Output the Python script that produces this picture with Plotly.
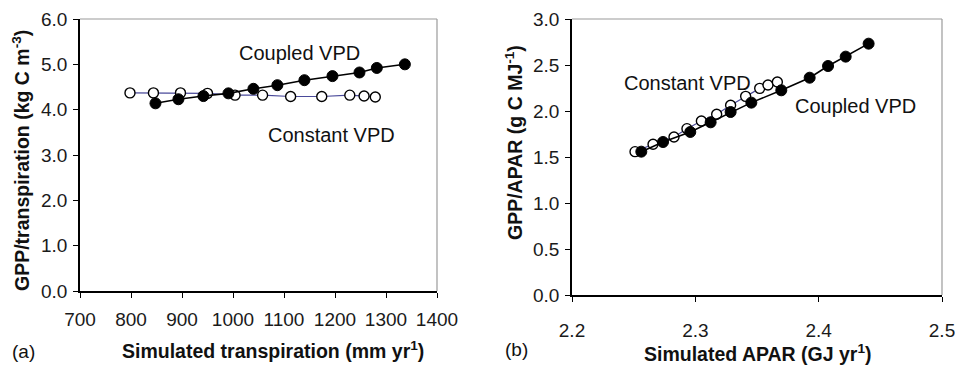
import plotly.graph_objects as go

W, H = 955, 366

# Panel (a): GPP/transpiration vs simulated transpiration
a_coupled_x = [848, 893, 942, 991, 1040, 1087, 1140, 1195, 1248, 1282, 1337]
a_coupled_y = [4.14, 4.23, 4.30, 4.36, 4.46, 4.54, 4.65, 4.74, 4.82, 4.92, 5.00]
a_constant_x = [798, 844, 897, 950, 1004, 1058, 1113, 1174, 1229, 1257, 1279]
a_constant_y = [4.37, 4.37, 4.37, 4.36, 4.32, 4.32, 4.29, 4.29, 4.32, 4.30, 4.28]

# Panel (b): GPP/APAR vs simulated APAR
b_coupled_x = [2.2562, 2.2738, 2.2959, 2.3124, 2.3286, 2.3454, 2.3697, 2.3927, 2.4076, 2.4219, 2.4405]
b_coupled_y = [1.558, 1.663, 1.772, 1.877, 1.989, 2.091, 2.225, 2.362, 2.489, 2.591, 2.732]
b_constant_x = [2.2511, 2.2657, 2.2827, 2.2932, 2.3049, 2.3173, 2.3286, 2.3408, 2.3522, 2.3589, 2.3665]
b_constant_y = [1.558, 1.638, 1.717, 1.808, 1.891, 1.964, 2.062, 2.159, 2.246, 2.283, 2.315]

a_xticks = [700, 800, 900, 1000, 1100, 1200, 1300, 1400]
a_yticks = [0, 1, 2, 3, 4, 5, 6]
b_xticks = [2.2, 2.3, 2.4, 2.5]
b_yticks = [0, 0.5, 1.0, 1.5, 2.0, 2.5, 3.0]

FONT = "Liberation Sans, Arial, sans-serif"

def px(x):
    return x / W

def py(y):
    return 1 - y / H

fig = go.Figure()

const_line = dict(color="#4a4a9a", width=1.2)
coup_line = dict(color="black", width=1.6)
open_marker = dict(symbol="circle", size=10, color="white", line=dict(color="black", width=1.4))
fill_marker = dict(symbol="circle", size=11, color="black", line=dict(color="black", width=1))

fig.add_trace(go.Scatter(x=a_constant_x, y=a_constant_y, mode="lines+markers",
                         line=const_line, marker=open_marker, xaxis="x", yaxis="y", showlegend=False))
fig.add_trace(go.Scatter(x=a_coupled_x, y=a_coupled_y, mode="lines+markers",
                         line=coup_line, marker=fill_marker, xaxis="x", yaxis="y", showlegend=False))
fig.add_trace(go.Scatter(x=b_constant_x, y=b_constant_y, mode="lines+markers",
                         line=const_line, marker=open_marker, xaxis="x2", yaxis="y2", showlegend=False))
fig.add_trace(go.Scatter(x=b_coupled_x, y=b_coupled_y, mode="lines+markers",
                         line=coup_line, marker=fill_marker, xaxis="x2", yaxis="y2", showlegend=False))

axis_common = dict(showgrid=False, zeroline=False, showline=True, linecolor="black", linewidth=1.5,
                   ticks="outside", ticklen=5, tickcolor="black", tickwidth=1.2, automargin=False,
                   ticklabeloverflow="allow",
                   tickfont=dict(family=FONT, size=19, color="#1a1a1a"))

fig.update_layout(
    width=W, height=H,
    margin=dict(l=0, r=0, t=0, b=0, pad=0),
    paper_bgcolor="white", plot_bgcolor="white",
    xaxis=dict(domain=[px(80), px(437)], range=[700, 1400], tickvals=a_xticks,
               anchor="y", ticklabelstandoff=5, **axis_common),
    yaxis=dict(domain=[py(291), py(19)], range=[0, 6], tickvals=a_yticks, tickformat=".1f",
               anchor="x", ticklabelstandoff=2, **axis_common),
    xaxis2=dict(domain=[px(572), px(942)], range=[2.2, 2.5], tickvals=b_xticks, tickformat=".1f",
                anchor="y2", ticklabelstandoff=12, **axis_common),
    yaxis2=dict(domain=[py(295), py(19)], range=[0, 3], tickvals=b_yticks, tickformat=".1f",
                anchor="x2", ticklabelstandoff=2, **axis_common),
)

# gray top/right frame
for xr, yr in [("x domain", "y domain"), ("x2 domain", "y2 domain")]:
    fig.add_shape(type="line", xref=xr, yref=yr, x0=0, x1=1, y0=1, y1=1,
                  line=dict(color="#9a9a9a", width=1.2))
    fig.add_shape(type="line", xref=xr, yref=yr, x0=1, x1=1, y0=0, y1=1,
                  line=dict(color="#9a9a9a", width=1.2))

def ann(text, x, y, size=20, bold=False, angle=0):
    if bold:
        text = "<b>" + text + "</b>"
    fig.add_annotation(text=text, x=px(x), y=py(y), xref="paper", yref="paper",
                       showarrow=False, textangle=angle, xanchor="center", yanchor="middle",
                       font=dict(family=FONT, size=size, color="#111"))

ann("Coupled VPD", 299, 53)
ann("Constant VPD", 331, 135)
ann("Constant VPD", 687, 83)
ann("Coupled VPD", 855, 106)

ann("Simulated transpiration (mm yr<sup>1</sup>)", 273, 350, size=19.5, bold=True)
ann("GPP/transpiration (kg C m<sup>-3</sup>)", 21, 161, size=19.5, bold=True, angle=-90)
ann("Simulated APAR (GJ yr<sup>1</sup>)", 758, 353, size=19.5, bold=True)
ann("GPP/APAR (g C MJ<sup>-1</sup>)", 514, 143, size=19.5, bold=True, angle=-90)

ann("(a)", 23, 351, size=19)
ann("(b)", 516, 349, size=19)

fig.write_html("out.html", config={"displayModeBar": False},
               post_script="document.body.style.margin='0';document.body.style.padding='0';")
